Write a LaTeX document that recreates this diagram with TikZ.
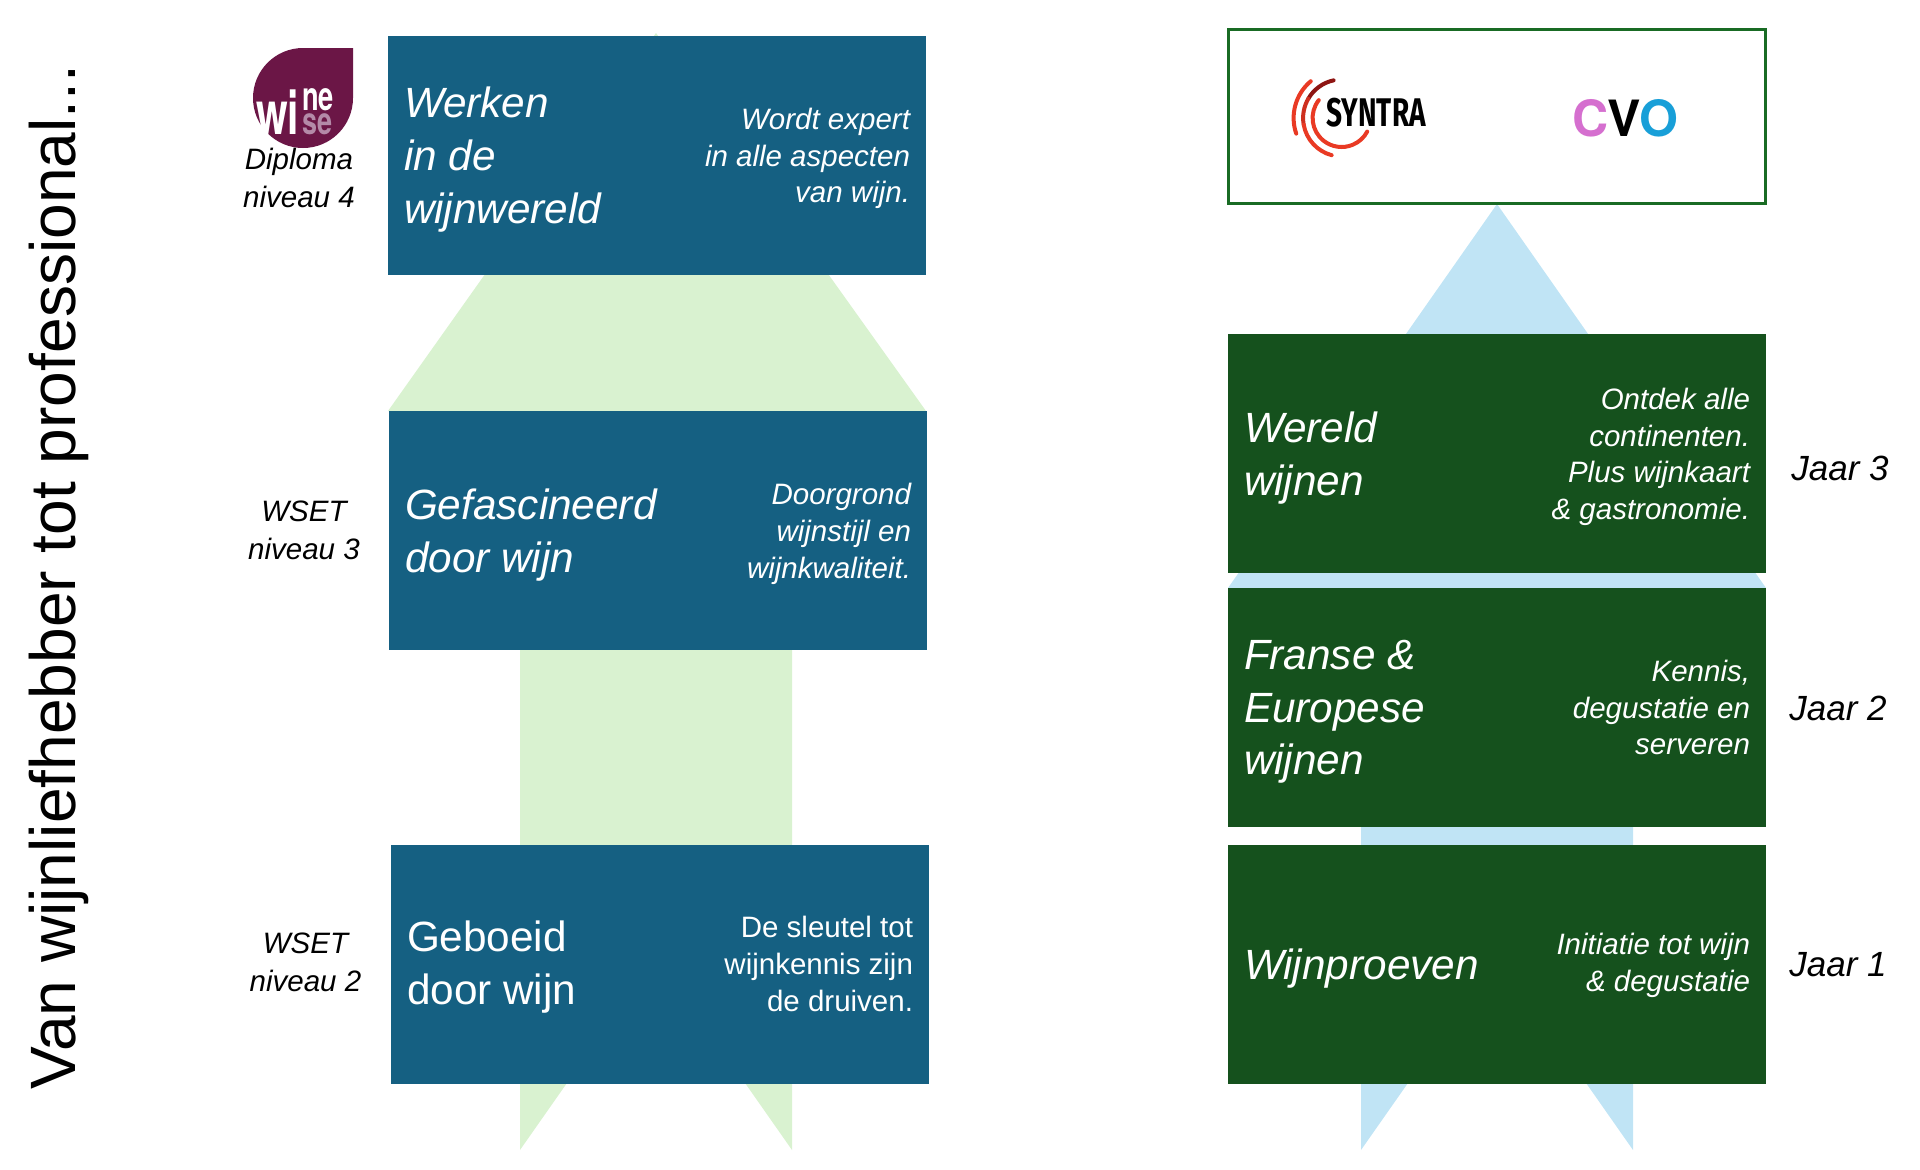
\documentclass[tikz,border=0pt]{standalone}
\usepackage{fontspec}
\setmainfont[Ligatures=NoCommon]{Liberation Sans}
\newfontfamily\logofont{TeX Gyre Heros}
\newfontfamily\syntrafont{Fira Sans}
\definecolor{boxblue}{HTML}{156082}
\definecolor{boxgreen}{HTML}{15511D}
\definecolor{framegreen}{HTML}{196B24}
\definecolor{arrowgreen}{HTML}{D9F2D0}
\definecolor{arrowblue}{HTML}{C0E4F5}
\definecolor{winered}{HTML}{6B1646}
\definecolor{winepink}{HTML}{B48AA8}
\definecolor{syntrared}{HTML}{E93A24}
\definecolor{syntradark}{HTML}{8E1512}
\definecolor{cvopink}{HTML}{D56FCF}
\definecolor{cvoblue}{HTML}{189FD8}
\tikzset{
  stagebox/.style={minimum width=538pt,minimum height=239pt,inner sep=0pt},
  stagename/.style={text=white,inner sep=0pt,align=left,yshift=-4.5pt,
    font=\fontsize{42.3}{52.6}\selectfont\itshape},
  stagenote/.style={text=white,inner sep=0pt,align=right,
    font=\fontsize{29.5}{36.7}\selectfont\itshape},
  sidelabel/.style={inner sep=0pt,align=center,
    font=\fontsize{29.5}{38}\selectfont\itshape},
  yearlabel/.style={inner sep=0pt,font=\fontsize{35}{38}\selectfont\itshape},
  logoarc/.style={line width=4pt,line cap=round},
}
\begin{document}
\begin{tikzpicture}[x=1pt,y=1pt]
\useasboundingbox (0,0) rectangle (1920,-1170);

% arrows behind the boxes
\fill[arrowgreen] (656,-33) -- (926,-411) -- (792,-411) -- (792,-1150) -- (656,-956)
  -- (520,-1150) -- (520,-411) -- (388,-411) -- cycle;
\fill[arrowblue] (1497,-204) -- (1766,-588) -- (1633,-588) -- (1633,-1150) -- (1497,-956)
  -- (1361,-1150) -- (1361,-588) -- (1228,-588) -- cycle;

% left column
\node[stagebox,fill=boxblue] (werken) at (657,-155) {};
\node[stagebox,fill=boxblue] (gefascineerd) at (658,-530.5) {};
\node[stagebox,fill=boxblue] (geboeid) at (660,-964) {};

\node[stagename,right=16pt] (werkenname) at (werken.west) {Werken\\in de\\wijnwereld};
\node[stagenote,left=16pt,yshift=-3.5pt] (werkennote) at (werken.east) {Wordt expert\\in alle aspecten\\van wijn.};
\node[stagename,right=16pt] (gefascineerdname) at (gefascineerd.west) {Gefascineerd\\door wijn};
\node[stagenote,left=16pt,yshift=-3.5pt] (gefascineerdnote) at (gefascineerd.east) {Doorgrond\\wijnstijl en\\wijnkwaliteit.};
\node[stagename,right=16pt,yshift=1.5pt,font=\fontsize{42.3}{52.6}\selectfont] (geboeidname) at (geboeid.west) {Geboeid\\door wijn};
\node[stagenote,left=16pt,font=\fontsize{29.5}{36.7}\selectfont] (geboeidnote) at (geboeid.east) {De sleutel tot\\wijnkennis zijn\\de druiven.};

\node[sidelabel] (diploma) at (299,-178) {Diploma\\niveau 4};
\node[sidelabel] (wset3) at (304,-530) {WSET\\niveau 3};
\node[sidelabel] (wset2) at (305.5,-962) {WSET\\niveau 2};

% right column
\node[stagebox,fill=boxgreen] (wereld) at (1497,-453.5) {};
\node[stagebox,fill=boxgreen] (franse) at (1497,-707.5) {};
\node[stagebox,fill=boxgreen] (proeven) at (1497,-964) {};

\node[stagename,right=16pt] (wereldname) at (wereld.west) {Wereld\\wijnen};
\node[stagenote,left=16pt,yshift=-3.5pt] (wereldnote) at (wereld.east) {Ontdek alle\\continenten.\\Plus wijnkaart\\\& gastronomie.};
\node[stagename,right=16pt] (fransename) at (franse.west) {Franse \&\\Europese\\wijnen};
\node[stagenote,left=16pt] (fransenote) at (franse.east) {Kennis,\\degustatie en\\serveren};
\node[stagename,right=16pt] (proevenname) at (proeven.west) {Wijnproeven};
\node[stagenote,left=16pt,yshift=-1.5pt] (proevennote) at (proeven.east) {Initiatie tot wijn\\\& degustatie};

\node[yearlabel] (jaar3) at (1840,-468) {Jaar 3};
\node[yearlabel] (jaar2) at (1838,-708) {Jaar 2};
\node[yearlabel] (jaar1) at (1838,-965) {Jaar 1};

% frame with the two logos
\node[draw=framegreen,line width=3pt,fill=white,minimum width=537pt,minimum height=174pt,
  inner sep=0pt] (scholen) at (1497,-116) {};

\coordinate (syntra) at (1341.6,-118);
\draw[logoarc,syntrared] (syntra) ++(142:29) arc (142:332:29);
\draw[logoarc,syntradark] (syntra) ++(102:38.5) arc (102:150:38.5);
\draw[logoarc,syntrared!70!syntradark] (syntra) ++(150:38.5) arc (150:190:38.5);
\draw[logoarc,syntrared] (syntra) ++(190:38.5) arc (190:255:38.5);
\draw[logoarc,syntrared] (syntra) ++(130:48) arc (130:199:48);
\node[inner sep=0pt,anchor=base west,
  font=\fontsize{40}{40}\selectfont\syntrafont\bfseries] (syntratext) at (1326,-126) {\scalebox{.7}[1]{SYNTRA}};
\node[inner sep=0pt,anchor=base west,font=\fontsize{50}{50}\selectfont\logofont\bfseries]
  (cvo) at (1572,-136) {\textcolor{cvopink}{C}\kern-1pt\textcolor{black}{V}\kern-1pt\textcolor{cvoblue}{O}};

% wine wise logo
\fill[winered] (353,-48) -- (353,-98) arc (0:-270:50) -- cycle;
\node[inner sep=0pt,anchor=base west,text=white,
  font=\fontsize{60}{60}\selectfont\logofont\bfseries] (wine1) at (256,-134) {\scalebox{.68}[1]{wi}};
\node[inner sep=0pt,anchor=base west,text=white,
  font=\fontsize{40}{40}\selectfont\logofont\bfseries] (wine2) at (302,-110) {\scalebox{.68}[1]{ne}};
\node[inner sep=0pt,anchor=base west,text=winepink,
  font=\fontsize{38}{38}\selectfont\logofont\bfseries] (wine3) at (302,-134) {\scalebox{.71}[1]{se}};

% title
\node[inner sep=0pt,anchor=base west,rotate=90,font=\fontsize{64.1}{68}\selectfont]
  (titel) at (75,-1090) {Van wijnliefhebber tot professional...};

\end{tikzpicture}
\end{document}
